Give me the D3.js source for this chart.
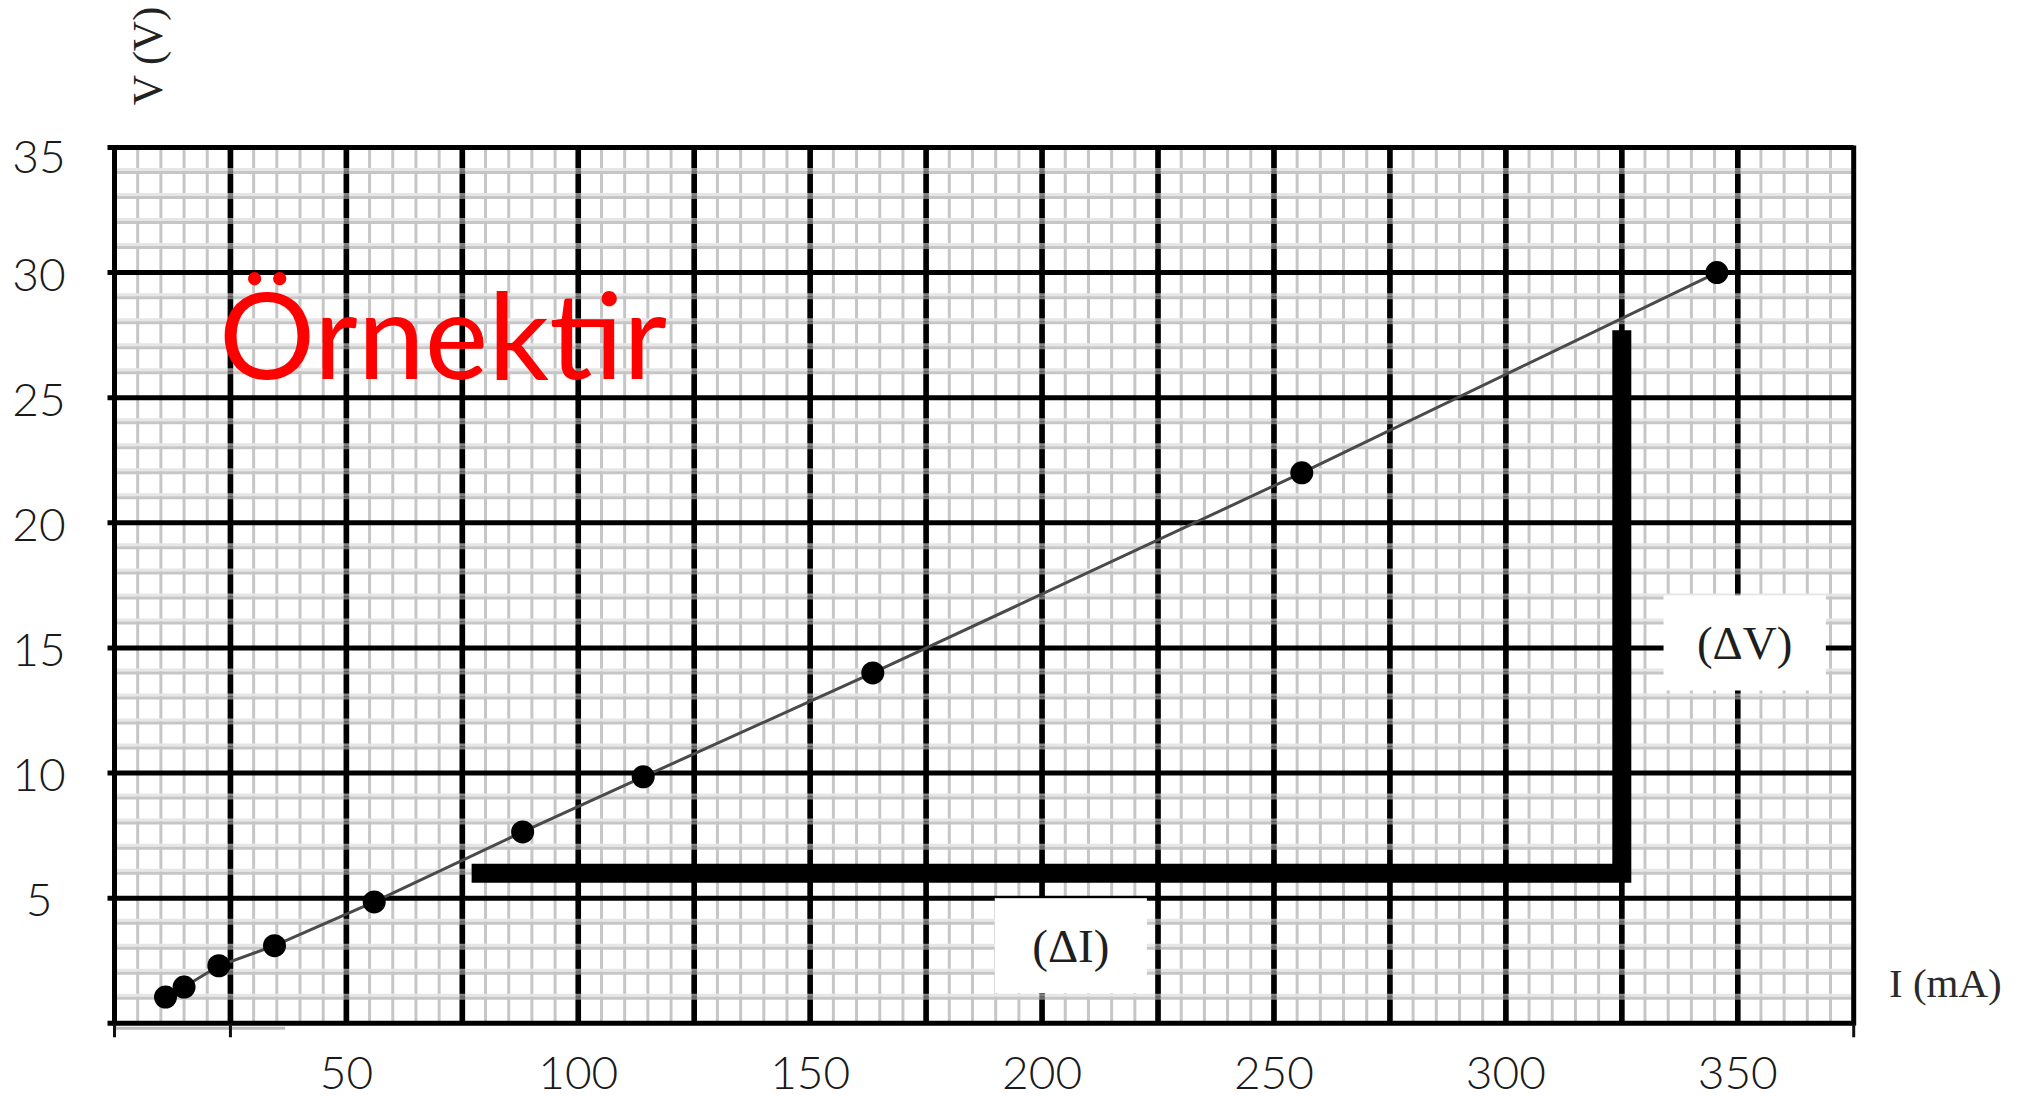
<!DOCTYPE html>
<html>
<head>
<meta charset="utf-8">
<script src="https://cdn.jsdelivr.net/npm/d3@7"></script>
<style>
  body { margin: 0; background: #fff; }
  svg { display: block; }
</style>
</head>
<body>
<div id="chart"></div>
<script>
// Measured points: current (mA) and voltage (V)
const currentMA = [11, 15, 22.5, 34.5, 56, 88, 114, 163.5, 256, 345.5];
const voltageV = [1.05, 1.45, 2.3, 3.1, 4.85, 7.65, 9.85, 14.0, 22.0, 30.0];

// Tick labels
const xTickLabels = [50, 100, 150, 200, 250, 300, 350];
const yTickLabels = [5, 10, 15, 20, 25, 30, 35];

// Slope triangle corners (mA, V)
const triangleI = [77, 325, 325];
const triangleV = [6, 6, 27.7];

const width = 2024;
const height = 1099;

const x = d3.scaleLinear().domain([0, 375]).range([114.5, 1853.7]);
const y = d3.scaleLinear().domain([0, 35]).range([1023.3, 147.5]);

const svg = d3
  .select('#chart')
  .append('svg')
  .attr('width', width)
  .attr('height', height);

svg.append('rect').attr('width', width).attr('height', height).attr('fill', '#fff');

// Graph paper grid
const minorX = d3.range(5, 375, 5).filter((v) => v % 25 !== 0);
const majorX = d3.range(25, 375, 25);
const minorY = d3.range(1, 35, 1).filter((v) => v % 5 !== 0);
const majorY = d3.range(5, 35, 5);

const grid = svg.append('g');

grid
  .selectAll('.vminor')
  .data(minorX)
  .enter()
  .append('line')
  .attr('x1', (d) => x(d))
  .attr('x2', (d) => x(d))
  .attr('y1', y(35))
  .attr('y2', y(0))
  .attr('stroke', '#c6c6c6')
  .attr('stroke-width', 3);

grid
  .selectAll('.vmajor')
  .data(majorX)
  .enter()
  .append('line')
  .attr('x1', (d) => x(d))
  .attr('x2', (d) => x(d))
  .attr('y1', y(35))
  .attr('y2', y(0))
  .attr('stroke', '#000')
  .attr('stroke-width', 5.5);

// light band + grey line for horizontal minor lines (they cross over the major verticals)
grid
  .selectAll('.hband')
  .data(minorY)
  .enter()
  .append('line')
  .attr('x1', x(0))
  .attr('x2', x(375))
  .attr('y1', (d) => y(d) - 3)
  .attr('y2', (d) => y(d) - 3)
  .attr('stroke', '#e6e6e6')
  .attr('stroke-width', 3);

grid
  .selectAll('.hminor')
  .data(minorY)
  .enter()
  .append('line')
  .attr('x1', x(0))
  .attr('x2', x(375))
  .attr('y1', (d) => y(d))
  .attr('y2', (d) => y(d))
  .attr('stroke', '#c6c6c6')
  .attr('stroke-width', 3);

// darken the crossings again a bit so the verticals look dashed
grid
  .selectAll('.vmajor2')
  .data(majorX)
  .enter()
  .append('line')
  .attr('x1', (d) => x(d))
  .attr('x2', (d) => x(d))
  .attr('y1', y(35))
  .attr('y2', y(0))
  .attr('stroke', '#000')
  .attr('stroke-opacity', 0.45)
  .attr('stroke-width', 5.5);

grid
  .selectAll('.hmajor')
  .data(majorY)
  .enter()
  .append('line')
  .attr('x1', x(0) - 7)
  .attr('x2', x(375))
  .attr('y1', (d) => y(d))
  .attr('y2', (d) => y(d))
  .attr('stroke', '#000')
  .attr('stroke-width', 5);

// Frame
const frame = svg.append('g').attr('stroke', '#000').attr('stroke-width', 5);
frame.append('line').attr('x1', x(0) - 7).attr('x2', x(375)).attr('y1', y(35)).attr('y2', y(35));
frame.append('line').attr('x1', x(0) - 7).attr('x2', x(375) + 2).attr('y1', y(0)).attr('y2', y(0));
frame.append('line').attr('x1', x(0)).attr('x2', x(0)).attr('y1', y(35) - 2).attr('y2', y(0) + 2);
frame.append('line').attr('x1', x(375)).attr('x2', x(375)).attr('y1', y(35) - 2).attr('y2', y(0) + 2);

// leftover axis stub under the frame
svg
  .append('line')
  .attr('x1', x(0))
  .attr('x2', x(36.8))
  .attr('y1', y(0) + 5)
  .attr('y2', y(0) + 5)
  .attr('stroke', '#bdbdbd')
  .attr('stroke-width', 3);

svg
  .selectAll('.stubtick')
  .data([0, 25, 375])
  .enter()
  .append('line')
  .attr('x1', (d) => x(d))
  .attr('x2', (d) => x(d))
  .attr('y1', y(0))
  .attr('y2', y(0) + 14)
  .attr('stroke', '#111')
  .attr('stroke-width', 3);

// Slope triangle
const triangle = d3
  .line()
  .x((d) => x(d[0]))
  .y((d) => y(d[1]));

svg
  .append('path')
  .attr('d', triangle(d3.zip(triangleI, triangleV)))
  .attr('fill', 'none')
  .attr('stroke', '#000')
  .attr('stroke-width', 19)
  .attr('stroke-linejoin', 'miter');

// Data line and points
const points = d3.zip(currentMA, voltageV);
svg
  .append('path')
  .attr('d', triangle(points))
  .attr('fill', 'none')
  .attr('stroke', '#4a4a4a')
  .attr('stroke-width', 3);

svg
  .selectAll('.dot')
  .data(points)
  .enter()
  .append('circle')
  .attr('class', 'dot')
  .attr('cx', (d) => x(d[0]))
  .attr('cy', (d) => y(d[1]))
  .attr('r', 11.5)
  .attr('fill', '#000');

// Delta labels on white boxes
function deltaLabel(i0, i1, v0, v1, text) {
  svg
    .append('rect')
    .attr('x', x(i0))
    .attr('y', y(v1))
    .attr('width', x(i1) - x(i0))
    .attr('height', y(v0) - y(v1))
    .attr('fill', '#fff');
  svg
    .append('text')
    .attr('x', (x(i0) + x(i1)) / 2)
    .attr('y', (y(v0) + y(v1)) / 2)
    .attr('dy', '0.35em')
    .attr('text-anchor', 'middle')
    .style('font-family', "'Liberation Serif', 'DejaVu Serif', serif")
    .style('font-size', '47px')
    .attr('fill', '#1e1e1e')
    .text(text);
}
deltaLabel(189.8, 222.6, 1.2, 5.0, '(ΔI)');
deltaLabel(334, 369, 13.3, 17.1, '(ΔV)');

// Watermark
svg
  .append('text')
  .attr('x', 219)
  .attr('y', 379)
  .style('font-family', "Lato, 'Open Sans', sans-serif")
  .style('font-size', '120px')
  .attr('textLength', 448)
  .attr('lengthAdjust', 'spacingAndGlyphs')
  .attr('fill', '#ff0000')
  .text('Örnektir');

// Tick labels
svg
  .selectAll('.xlabel')
  .data(xTickLabels)
  .enter()
  .append('text')
  .attr('x', (d) => x(d))
  .attr('y', 1073)
  .attr('dy', '0.35em')
  .attr('text-anchor', 'middle')
  .style('font-family', "Lato, Roboto, sans-serif")
  .style('font-weight', 300)
  .style('font-size', '46px')
  .attr('fill', '#1a1a1a')
  .text((d) => d);

svg
  .selectAll('.ylabel')
  .data(yTickLabels)
  .enter()
  .append('text')
  .attr('x', 39)
  .attr('y', (d) => y(d) + (d === 35 ? 9 : 2))
  .attr('dy', '0.35em')
  .attr('text-anchor', 'middle')
  .style('font-family', "Lato, Roboto, sans-serif")
  .style('font-weight', 300)
  .style('font-size', '46px')
  .attr('fill', '#1a1a1a')
  .text((d) => d);

// Axis titles
svg
  .append('text')
  .attr('transform', 'translate(162, 56) rotate(-90)')
  .attr('text-anchor', 'middle')
  .style('font-family', "'Liberation Serif', serif")
  .style('font-size', '42px')
  .attr('fill', '#222')
  .text('V (V)');

svg
  .append('text')
  .attr('x', 1889)
  .attr('y', 997)
  .style('font-family', "'Liberation Serif', serif")
  .style('font-size', '41px')
  .attr('fill', '#2a2a2a')
  .text('I (mA)');
</script>
</body>
</html>
